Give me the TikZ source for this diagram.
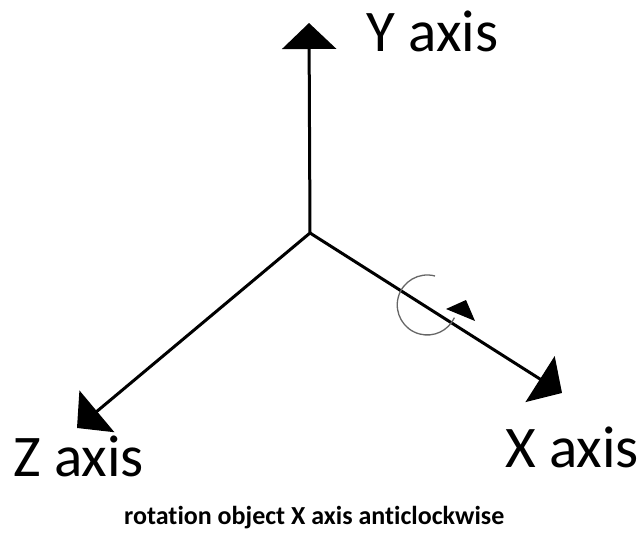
\documentclass[tikz,border=0pt]{standalone}
\usepackage{fontspec}
\setmainfont{Carlito}[Ligatures=NoCommon]
\usetikzlibrary{arrows.meta}
\begin{document}
\begin{tikzpicture}[x=1pt,y=-1pt,
  axisline/.style={line width=3pt,-{Triangle[length=26pt,width=54pt]}},
  axislabel/.style={anchor=base west,inner sep=0pt,font=\fontsize{59}{62}\selectfont},
  caption/.style={anchor=base west,inner sep=0pt,font=\fontsize{26}{28}\selectfont\bfseries}]
\useasboundingbox (0,0) rectangle (642,537);
\coordinate (O) at (310,233);
\coordinate (Ytip) at (309,23);
\coordinate (Ztip) at (77,428);
\coordinate (Xtip) at (562,393);
\draw[axisline] (O) -- (Ytip);
\draw[axisline] (O) -- (Ztip);
\draw[axisline] (O) -- (Xtip);
\node[axislabel] (ylab) at (366,52) {Y axis};
\node[axislabel] (zlab) at (13,476) {Z axis};
\node[axislabel] (xlab) at (505,467) {X axis};
\node[caption] (cap) at (124,524) {rotation object X axis anticlockwise};
% rotation symbol
\coordinate (rc) at (427,305);
\draw[line width=1.3pt,black!60] (435,276) arc[start angle=-75,end angle=-335,radius=30];
\fill (446,309) -- (466,300) -- (475,321) -- cycle;
\end{tikzpicture}
\end{document}
